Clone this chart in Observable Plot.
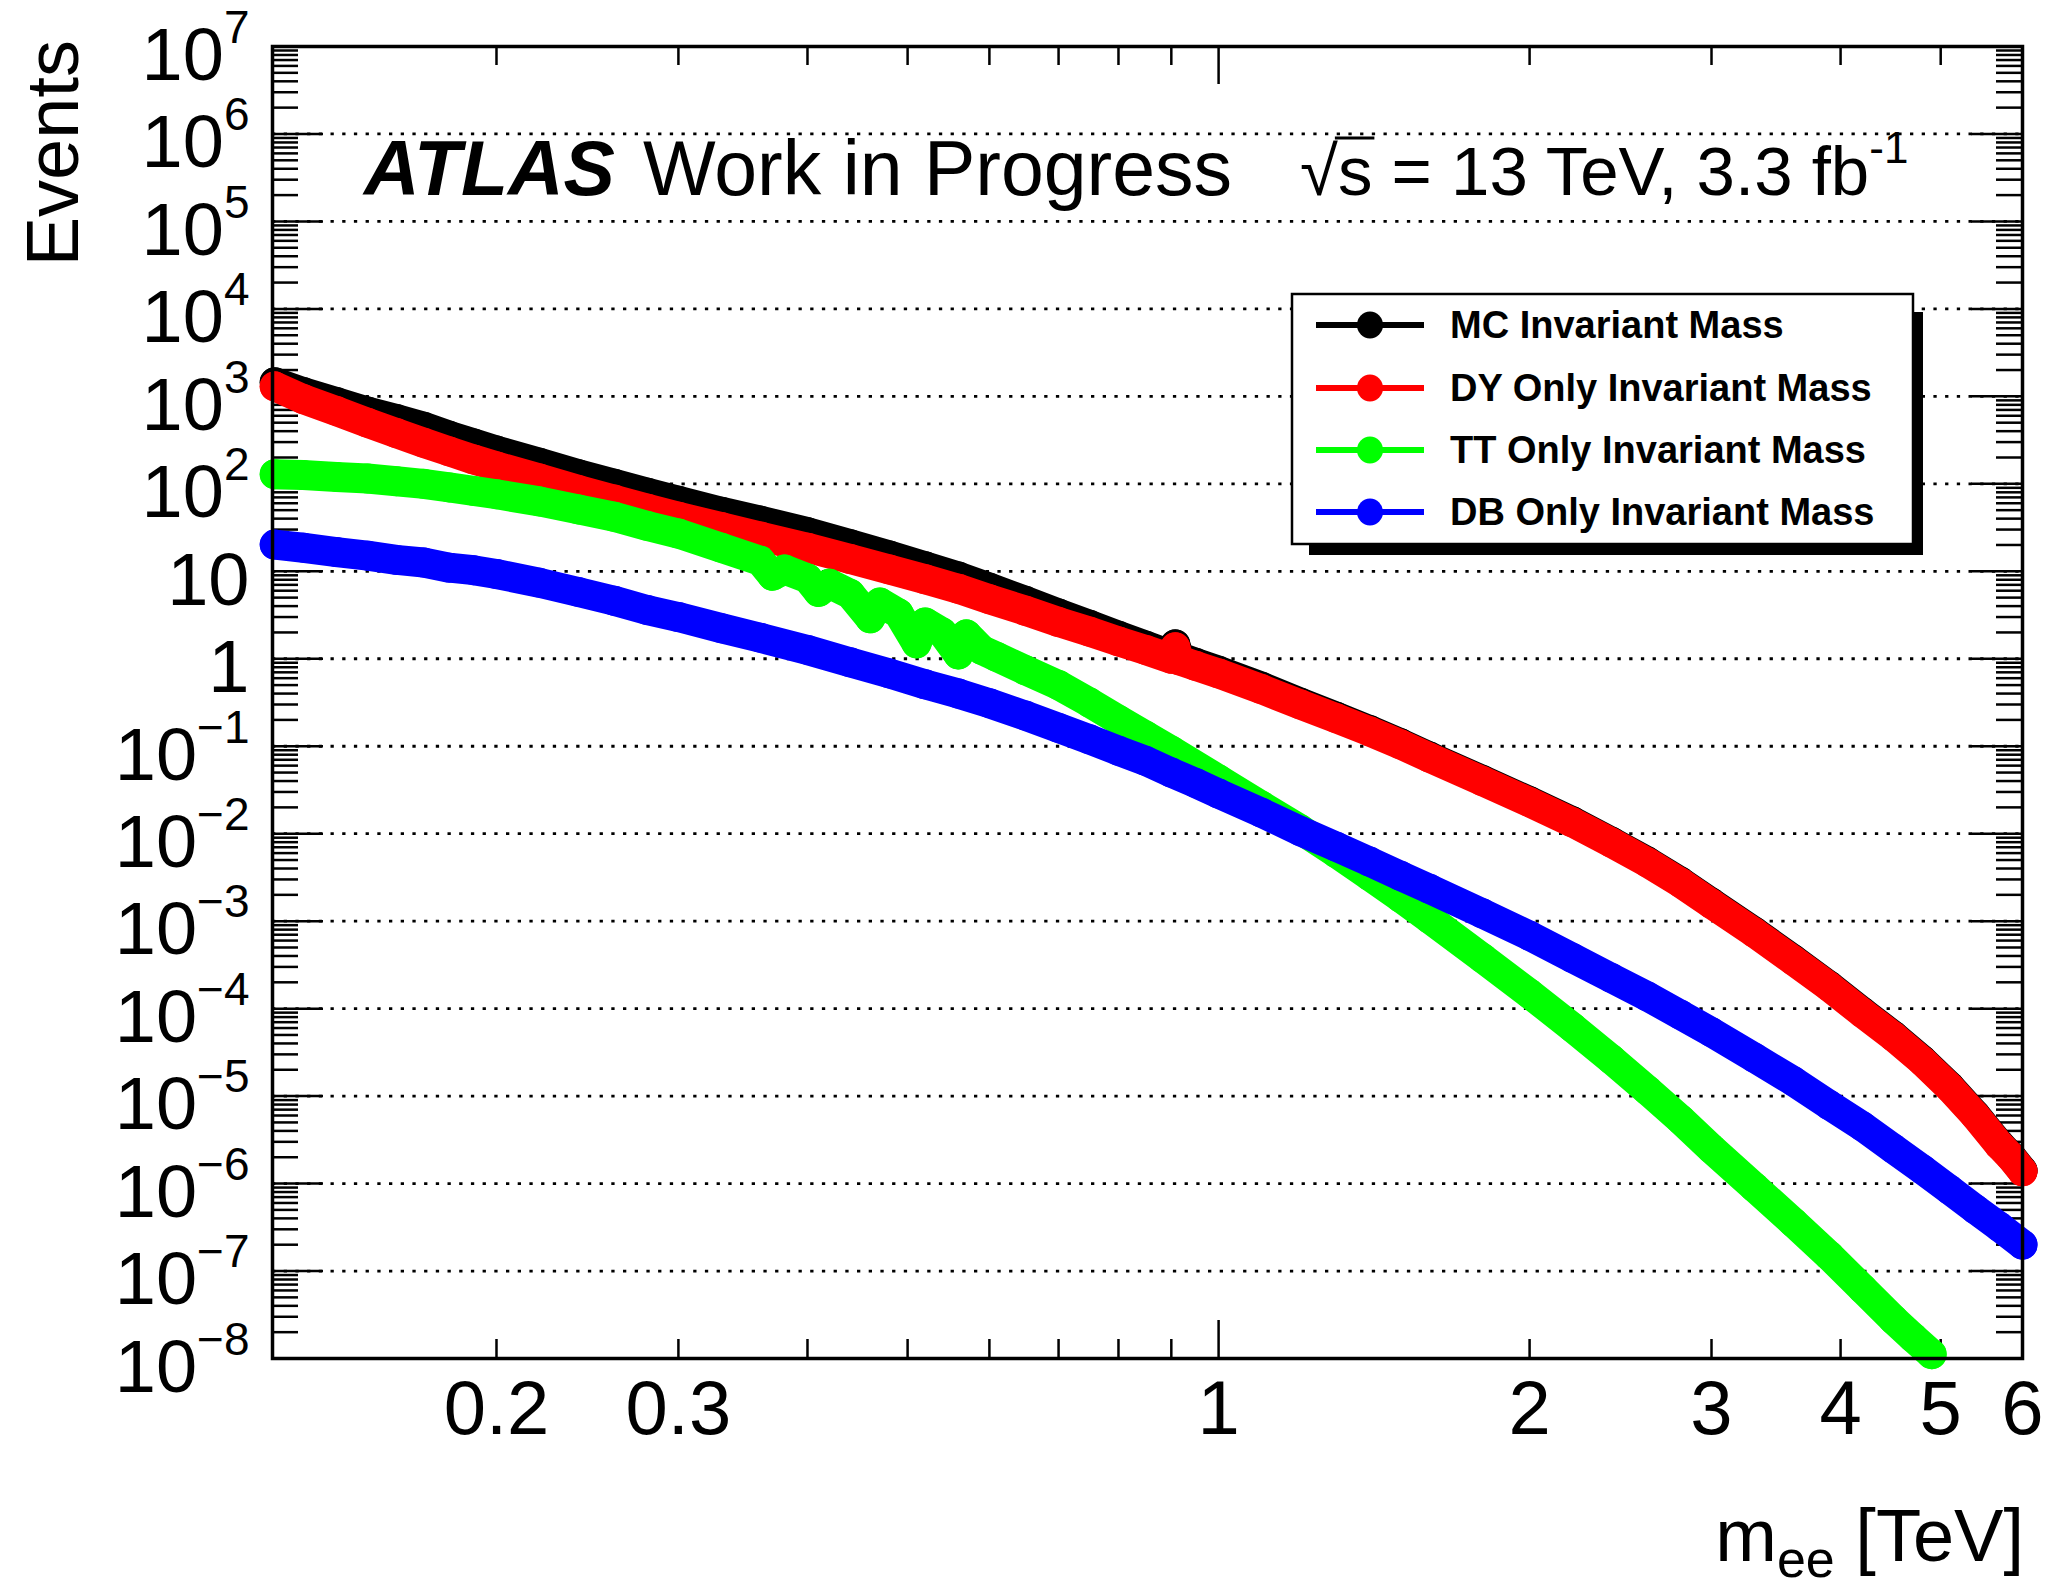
<!DOCTYPE html>
<html>
<head>
<meta charset="utf-8">
<script src="https://cdn.jsdelivr.net/npm/d3@7"></script>
<script src="https://cdn.jsdelivr.net/npm/@observablehq/plot@0.6"></script>
<style>
  html, body { margin: 0; padding: 0; background: #ffffff; }
  #chart { position: relative; width: 2061px; height: 1584px; }
</style>
</head>
<body>
<div id="chart"></div>
<script>
// ---------------- data ----------------
const seriesNames  = ["MC Invariant Mass", "DY Only Invariant Mass", "TT Only Invariant Mass", "DB Only Invariant Mass"];
const seriesColors = ["#000000", "#ff0000", "#00ff00", "#0000ff"];

// m_ee in TeV, Events
const mcMass = [0.122,0.13,0.14,0.15,0.16,0.17,0.18,0.19,0.20,0.22,0.24,0.26,0.28,0.30,0.33,0.36,0.40,0.44,0.48,0.52,0.56,0.60,0.65,0.70,0.75,0.80,0.85,0.90,0.908,0.916,0.95,1.0,1.1,1.2,1.3,1.4,1.5,1.6,1.8,2.0,2.2,2.4,2.6,2.8,3.0,3.3,3.6,3.9,4.2,4.5,4.8,5.1,5.4,5.7,5.85,6.0];
const mcEvents = [1.45e3,1.12e3,8.6e2,6.7e2,5.5e2,4.5e2,3.55e2,2.9e2,2.4e2,1.74e2,1.29e2,1.0e2,7.9e1,6.4e1,4.8e1,3.8e1,2.8e1,2.04e1,1.52e1,1.14e1,8.7,6.5,4.6,3.3,2.45,1.83,1.41,1.10,1.46,1.05,0.90,0.73,0.48,0.315,0.217,0.153,0.108,0.0762,0.0411,0.0235,0.01385,0.0081,0.00482,0.00282,0.00162,0.000759,0.000364,0.0001825,0.0000913,0.0000491,0.0000257,0.0000129,0.00000615,0.00000282,0.00000205,0.00000141];

const dyMass = [0.122,0.13,0.14,0.15,0.16,0.17,0.18,0.19,0.20,0.22,0.24,0.26,0.28,0.30,0.33,0.36,0.40,0.44,0.48,0.52,0.56,0.60,0.65,0.70,0.75,0.80,0.85,0.90,0.908,0.916,0.95,1.0,1.1,1.2,1.3,1.4,1.5,1.6,1.8,2.0,2.2,2.4,2.6,2.8,3.0,3.3,3.6,3.9,4.2,4.5,4.8,5.1,5.4,5.7,5.85,6.0];
const dyEvents = [1.3e3,9.3e2,6.8e2,5.0e2,3.8e2,2.95e2,2.35e2,1.9e2,1.58e2,1.15e2,8.5e1,6.6e1,5.2e1,4.2e1,3.2e1,2.5e1,1.86e1,1.38e1,1.05e1,8.1,6.3,4.8,3.55,2.63,2.04,1.58,1.26,1.0,1.35,0.96,0.83,0.68,0.45,0.30,0.209,0.148,0.105,0.074,0.040,0.0229,0.0135,0.0079,0.0047,0.00275,0.00158,0.00074,0.000355,0.000178,0.0000891,0.0000479,0.0000251,0.0000126,0.0000060,0.00000275,0.0000020,0.00000138];

const ttMass = [0.122,0.13,0.14,0.15,0.16,0.17,0.18,0.19,0.20,0.22,0.24,0.26,0.28,0.30,0.33,0.36,0.37,0.38,0.40,0.41,0.42,0.44,0.46,0.47,0.49,0.51,0.52,0.54,0.56,0.57,0.59,0.61,0.65,0.70,0.75,0.80,0.85,0.90,1.0,1.1,1.2,1.3,1.4,1.5,1.6,1.8,2.0,2.2,2.4,2.6,2.8,3.0,3.3,3.6,3.9,4.2,4.5,4.7,4.9];
const ttEvents = [1.29e2,1.26e2,1.2e2,1.15e2,1.07e2,1.0e2,9.1e1,8.3e1,7.6e1,6.3e1,5.1e1,4.2e1,3.3e1,2.7e1,1.86e1,1.32e1,8.9,1.05e1,8.3,5.8,7.2,5.5,2.9,4.4,3.3,1.5,2.6,2.0,1.12,1.9,1.26,1.05,0.74,0.50,0.316,0.20,0.132,0.089,0.0417,0.0209,0.0112,0.0060,0.0033,0.00186,0.00107,0.00038,0.000148,0.000061,0.0000263,0.0000117,0.0000054,0.0000025,0.00000091,0.00000036,0.00000015,0.000000063,0.000000028,0.0000000174,0.0000000112];

const dbMass = [0.122,0.13,0.14,0.15,0.16,0.17,0.18,0.19,0.20,0.22,0.24,0.26,0.28,0.30,0.33,0.36,0.40,0.44,0.48,0.52,0.56,0.60,0.65,0.70,0.75,0.80,0.85,0.90,0.95,1.0,1.1,1.2,1.3,1.4,1.5,1.6,1.8,2.0,2.2,2.4,2.6,2.8,3.0,3.3,3.6,3.9,4.2,4.5,4.8,5.1,5.4,5.7,6.0];
const dbEvents = [20.2,18.6,16.6,15.1,13.5,12.6,11.0,10.3,9.3,7.4,5.8,4.6,3.6,3.0,2.24,1.74,1.26,0.91,0.68,0.51,0.40,0.31,0.224,0.162,0.120,0.089,0.068,0.050,0.038,0.0288,0.0174,0.0107,0.0071,0.0048,0.0033,0.00234,0.00123,0.00068,0.00038,0.000224,0.000138,0.0000851,0.0000537,0.0000275,0.0000148,0.0000079,0.0000045,0.0000025,0.00000145,0.00000085,0.00000051,0.00000032,0.0000002];

// axis ticks
const yLabelTicks = [1e7,1e6,1e5,1e4,1e3,1e2,1e1,1,1e-1,1e-2,1e-3,1e-4,1e-5,1e-6,1e-7,1e-8];
const yGridTicks  = [1e6,1e5,1e4,1e3,1e2,1e1,1,1e-1,1e-2,1e-3,1e-4,1e-5,1e-6,1e-7];
const yMinorMult  = [2,3,4,5,6,7,8,9];
const xLabelTicks = [0.2,0.3,1,2,3,4,5,6];
const xMajorTicks = [1];
const xMinorTicks = [0.2,0.3,0.4,0.5,0.6,0.7,0.8,0.9,2,3,4,5];

// ---------------- layout ----------------
const W = 2061, H = 1584;
const mL = 272, mR = 39, mT = 46, mB = 226;
const PW = W - mL - mR, PH = H - mT - mB;
const FONT = "'Liberation Sans', Arial, Helvetica, sans-serif";

const yMinor = [];
for (let e = -8; e <= 6; e++) for (const m of yMinorMult) yMinor.push(+(m + "e" + e));

const series = [
  {mass: mcMass, events: mcEvents},
  {mass: dyMass, events: dyEvents},
  {mass: ttMass, events: ttEvents},
  {mass: dbMass, events: dbEvents}
].map((s, i) => ({
  name: seriesNames[i], color: seriesColors[i],
  rows: s.mass.map((m, j) => ({mass: m, events: s.events[j]}))
}));

const curveMarks = [];
for (const s of series) {
  curveMarks.push(Plot.line(s.rows, {x: "mass", y: "events", stroke: s.color, strokeWidth: 30,
    strokeLinecap: "round", strokeLinejoin: "round"}));
  curveMarks.push(Plot.dot(s.rows, {x: "mass", y: "events", r: 15, fill: s.color, stroke: "none"}));
}

function fmtY(v) {
  const e = Math.round(Math.log10(v));
  if (e === 0) return "1";
  if (e === 1) return "10";
  return "10^" + e;
}

const chart = Plot.plot({
  width: W, height: H,
  marginLeft: mL, marginRight: mR, marginTop: mT, marginBottom: mB,
  style: {fontFamily: FONT, fontSize: "74px", background: "#ffffff", color: "#000000", overflow: "visible"},
  x: {type: "log", domain: [0.1214, 6]},
  y: {type: "log", domain: [1e-8, 1e7]},
  marks: [
    Plot.ruleY(yGridTicks, {y: d => d, stroke: "#000", strokeWidth: 2.8, strokeDasharray: "3.3,8.4"}),
    // y ticks (left & right, pointing inward)
    Plot.tickY(yLabelTicks, {y: d => d, stroke: "#000", strokeWidth: 2.5, insetRight: PW - 51}),
    Plot.tickY(yLabelTicks, {y: d => d, stroke: "#000", strokeWidth: 2.5, insetLeft: PW - 51}),
    Plot.tickY(yMinor, {y: d => d, stroke: "#000", strokeWidth: 2.5, insetRight: PW - 26}),
    Plot.tickY(yMinor, {y: d => d, stroke: "#000", strokeWidth: 2.5, insetLeft: PW - 26}),
    // x ticks (bottom & top)
    Plot.tickX(xMajorTicks, {x: d => d, stroke: "#000", strokeWidth: 2.5, insetTop: PH - 38}),
    Plot.tickX(xMajorTicks, {x: d => d, stroke: "#000", strokeWidth: 2.5, insetBottom: PH - 38}),
    Plot.tickX(xMinorTicks, {x: d => d, stroke: "#000", strokeWidth: 2.5, insetTop: PH - 19}),
    Plot.tickX(xMinorTicks, {x: d => d, stroke: "#000", strokeWidth: 2.5, insetBottom: PH - 19}),
    ...curveMarks,
    Plot.frame({stroke: "#000", strokeWidth: 3.5}),
    Plot.axisY({ticks: yLabelTicks, tickSize: 0, tickPadding: 23, tickFormat: fmtY, label: null, fontSize: 74}),
    Plot.axisX({ticks: xLabelTicks, tickSize: 0, tickPadding: 22, tickFormat: d => String(d), label: null, fontSize: 76})
  ]
});

document.getElementById("chart").appendChild(chart);
const svg = d3.select(chart);

// y tick labels with superscripts
svg.selectAll('g[aria-label="y-axis tick label"] text').each(function () {
  const t = d3.select(this);
  const s = t.text();
  t.text("");
  t.attr("y", "0.45em");
  if (s.includes("^")) {
    const [b, e] = s.split("^");
    t.append("tspan").text(b);
    t.append("tspan").attr("font-size", "46px").attr("dy", "-37").text(e.replace("-", "\u2212"));
  } else {
    t.append("tspan").text(s);
  }
});

// ---------------- annotations ----------------
const ann = svg.append("g").attr("font-family", FONT).attr("fill", "#000").attr("text-anchor", "start");

// y title
ann.append("text").attr("transform", "translate(78,40) rotate(-90)")
  .attr("text-anchor", "end").attr("font-size", "74px").text("Events");

// x title
const xt = ann.append("text").attr("x", 2024).attr("y", 1561).attr("text-anchor", "end").attr("font-size", "74px");
xt.append("tspan").text("m");
xt.append("tspan").attr("font-size", "52px").attr("dy", "16").text("ee");
xt.append("tspan").attr("dy", "-16").text(" [TeV]");

// ATLAS label
ann.append("text").attr("x", 364).attr("y", 195).attr("font-size", "77px").attr("text-anchor", "start")
  .attr("font-weight", "bold").attr("font-style", "italic").text("ATLAS");
ann.append("text").attr("x", 643).attr("y", 195).attr("font-size", "77px").attr("text-anchor", "start")
  .text("Work in Progress");

// sqrt(s) label
const ecm = ann.append("text").attr("x", 1300).attr("y", 195).attr("font-size", "69px").attr("text-anchor", "start");
ecm.append("tspan").text("\u221A");
ecm.append("tspan").text("s");
ecm.append("tspan").text(" = 13 TeV, 3.3 fb");
ecm.append("tspan").attr("font-size", "44px").attr("dy", "-32").text("-1");
try {
  const el = ecm.node();
  const w0 = el.getSubStringLength(0, 1);
  const w1 = el.getSubStringLength(1, 1);
  ann.append("line").attr("x1", 1300 + w0 - 3).attr("x2", 1300 + w0 + w1 + 2).attr("y1", 138).attr("y2", 138)
    .attr("stroke", "#000").attr("stroke-width", 3);
} catch (e) {}

// legend
const LX = 1292, LY = 294, LW = 621, LH = 250;
const leg = svg.append("g").attr("font-family", FONT).attr("text-anchor", "start");
leg.append("rect").attr("x", LX + 17).attr("y", LY + 18).attr("width", LW - 7).attr("height", LH - 7)
  .attr("fill", "#000");
leg.append("rect").attr("x", LX).attr("y", LY).attr("width", LW).attr("height", LH)
  .attr("fill", "#fff").attr("stroke", "#000").attr("stroke-width", 2.5);
const rowY = [325, 388, 450, 512];
series.forEach((s, i) => {
  const g = leg.append("g");
  g.append("line").attr("x1", 1316).attr("x2", 1424).attr("y1", rowY[i]).attr("y2", rowY[i])
    .attr("stroke", s.color).attr("stroke-width", 6);
  g.append("ellipse").attr("cx", 1370).attr("cy", rowY[i]).attr("rx", 13).attr("ry", 13.5).attr("fill", s.color);
  g.append("text").attr("x", 1450).attr("y", rowY[i] + 13).attr("font-size", "38px").attr("text-anchor", "start")
    .attr("font-weight", "bold").attr("fill", "#000").text(s.name);
});
</script>
</body>
</html>
